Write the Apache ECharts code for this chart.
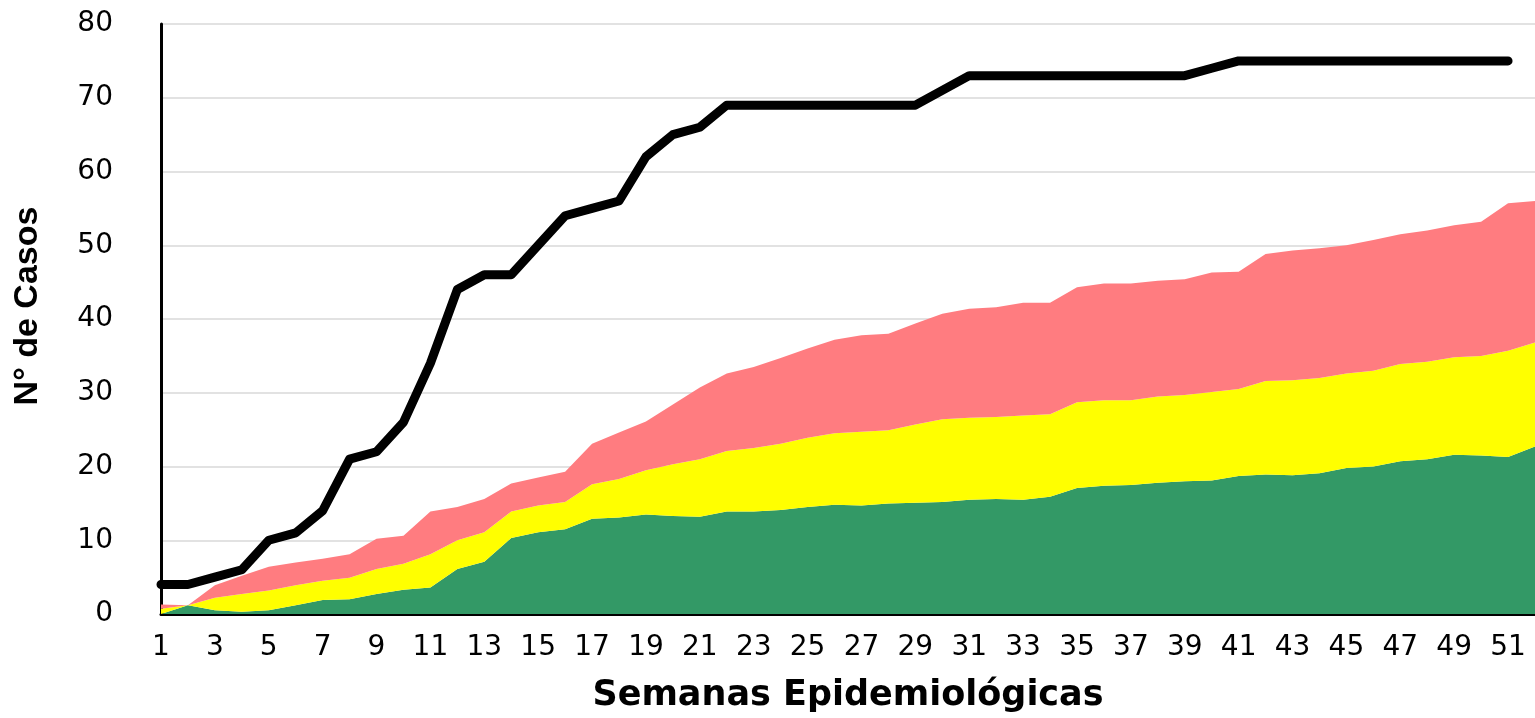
<!DOCTYPE html>
<html>
<head>
<meta charset="utf-8">
<script src="https://cdn.jsdelivr.net/npm/echarts@6/dist/echarts.min.js"></script>
<style>
  html, body { margin: 0; padding: 0; background: #fff; }
  #chart { width: 1535px; height: 718px; }
</style>
</head>
<body>
<div id="chart"></div>
<script>
// semanas 1..52
var semanas = [];
for (var i = 1; i <= 52; i++) semanas.push(String(i));

// capa inferior (verde)
var verde = [0, 1.2, 0.5, 0.3, 0.5, 1.2, 1.9, 2.0, 2.7, 3.3,
  3.6, 6.1, 7.1, 10.3, 11.1, 11.5, 12.9, 13.1, 13.5, 13.3,
  13.2, 13.9, 13.9, 14.1, 14.5, 14.8, 14.7, 15.0, 15.1, 15.2,
  15.5, 15.6, 15.5, 15.9, 17.1, 17.4, 17.5, 17.8, 18.0, 18.1,
  18.7, 18.9, 18.8, 19.1, 19.8, 20.0, 20.7, 21.0, 21.6, 21.5,
  21.3, 22.7];

// capa media (amarillo)
var amarillo = [0.7, 0, 1.7, 2.4, 2.7, 2.7, 2.6, 2.9, 3.4, 3.5,
  4.5, 3.9, 4.0, 3.6, 3.6, 3.7, 4.7, 5.2, 6.0, 7.0,
  7.8, 8.2, 8.6, 9.0, 9.4, 9.7, 10.0, 9.9, 10.6, 11.2,
  11.1, 11.1, 11.4, 11.2, 11.6, 11.6, 11.5, 11.7, 11.7, 12.0,
  11.8, 12.7, 12.9, 12.9, 12.8, 13.0, 13.2, 13.2, 13.2, 13.5,
  14.4, 14.1];

// capa superior (rojo claro)
var rojo = [0.6, 0, 1.7, 2.5, 3.2, 3.1, 3.0, 3.2, 4.1, 3.8,
  5.8, 4.5, 4.5, 3.8, 3.8, 4.1, 5.5, 6.3, 6.6, 8.1,
  9.7, 10.5, 11.0, 11.6, 12.1, 12.7, 13.1, 13.1, 13.7, 14.3,
  14.8, 14.9, 15.3, 15.1, 15.6, 15.8, 15.8, 15.7, 15.7, 16.2,
  15.9, 17.2, 17.6, 17.6, 17.4, 17.7, 17.6, 17.8, 17.9, 18.2,
  20.0, 19.2];

// linea negra (acumulado), semana 52 sin dato
var acumulado = [4, 4, 5, 6, 10, 11, 14, 21, 22, 26,
  34, 44, 46, 46, 50, 54, 55, 56, 62, 65,
  66, 69, 69, 69, 69, 69, 69, 69, 69, 71,
  73, 73, 73, 73, 73, 73, 73, 73, 73, 74,
  75, 75, 75, 75, 75, 75, 75, 75, 75, 75,
  75, null];

var yTicks = [0, 80, 10]; // min, max, interval

var chart = echarts.init(document.getElementById('chart'));

function capa(nombre, datos, color) {
  return {
    name: nombre,
    type: 'line',
    stack: 'total',
    data: datos,
    showSymbol: false,
    symbol: 'none',
    lineStyle: { width: 0 },
    areaStyle: { color: color, opacity: 1 },
    itemStyle: { color: color },
    z: 2
  };
}

chart.setOption({
  animation: false,
  grid: { left: 161, right: -7, top: 24, bottom: 101, containLabel: false },
  xAxis: {
    type: 'category',
    data: semanas,
    boundaryGap: false,
    name: 'Semanas Epidemiológicas',
    nameLocation: 'middle',
    nameGap: 64,
    nameTextStyle: { fontFamily: 'DejaVu Sans', fontWeight: 'bold', fontSize: 35, color: '#000' },
    axisLine: { lineStyle: { color: '#000', width: 3 } },
    axisTick: { show: false },
    axisLabel: { interval: 1, margin: 20, fontFamily: 'DejaVu Sans', fontSize: 28, color: '#000' },
    splitLine: { show: false }
  },
  yAxis: {
    type: 'value',
    min: yTicks[0],
    max: yTicks[1],
    interval: yTicks[2],
    name: 'N° de Casos',
    nameLocation: 'middle',
    nameGap: 116,
    nameTextStyle: {
      fontFamily: 'Liberation Sans', fontWeight: 'bold', fontSize: 34, color: '#000',
      padding: [0, 0, 0, 26]
    },
    axisLine: { show: true, lineStyle: { color: '#000', width: 3 } },
    axisTick: { show: false },
    axisLabel: { margin: 48, fontFamily: 'DejaVu Sans', fontSize: 28, color: '#000' },
    splitLine: { lineStyle: { color: '#d9d9d9', width: 1.5 } }
  },
  series: [
    capa('Verde', verde, '#339966'),
    capa('Amarillo', amarillo, '#ffff00'),
    capa('Rojo', rojo, '#ff7c80'),
    {
      name: 'Acumulado',
      type: 'line',
      data: acumulado,
      showSymbol: false,
      symbol: 'none',
      lineStyle: { color: '#000', width: 9, cap: 'round', join: 'round' },
      z: 5
    }
  ]
});
</script>
</body>
</html>
